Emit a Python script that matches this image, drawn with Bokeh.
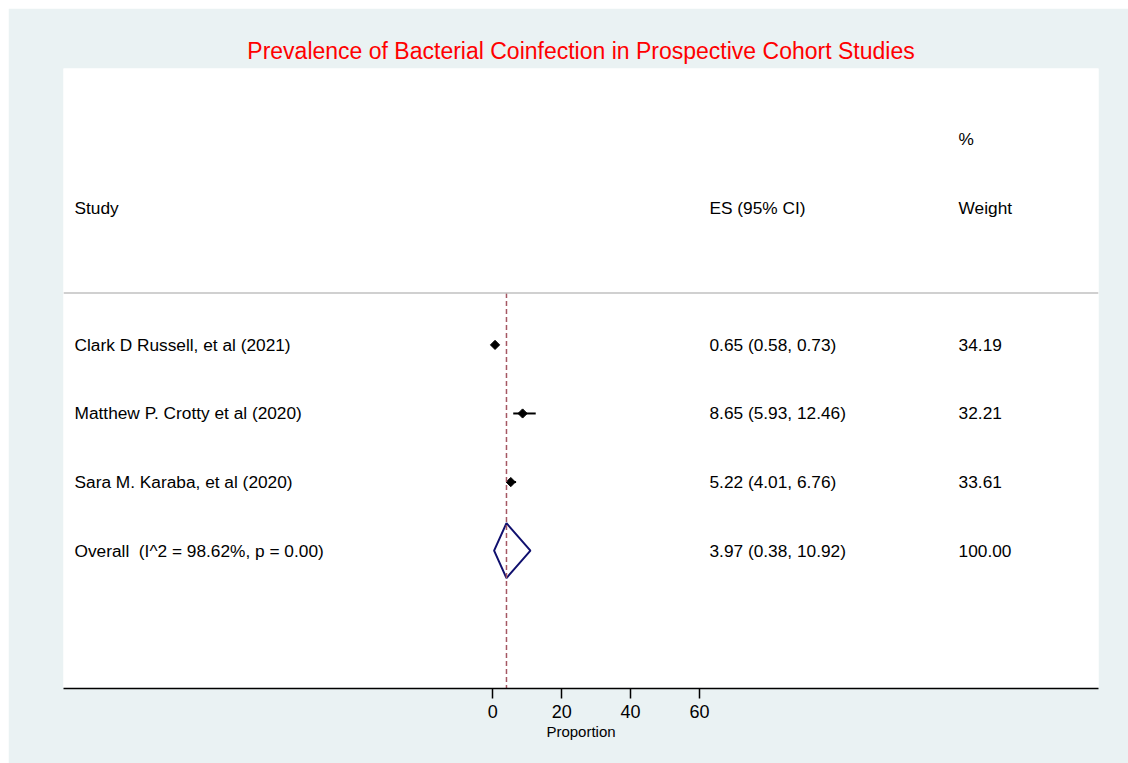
import math
from bokeh.plotting import figure
from bokeh.models import Range1d, FixedTicker, Span
from bokeh.core.properties import value
from bokeh.embed import file_html
from bokeh.resources import INLINE

# ---- data ----
studies = ["Clark D Russell, et al (2021)",
           "Matthew P. Crotty et al (2020)",
           "Sara M. Karaba, et al (2020)"]
es = [0.65, 8.65, 5.22]
ci_lo = [0.58, 5.93, 4.01]
ci_hi = [0.73, 12.46, 6.76]
weights = [34.19, 32.21, 33.61]
overall_es = 3.97
overall_lo = 0.38
overall_hi = 10.92
overall_weight = 100.00
i2 = 98.62
p_het = 0.00
x_ticks = [0, 20, 40, 60]

# ---- layout constants ----
FONT = value("Liberation Sans")
rows = [1, 2, 3]
overall_row = 4
x_lab, x_es, x_w = -121.4, 62.9, 135.2

p = figure(width=1120, height=755, output_backend="svg", toolbar_location=None,
           x_range=Range1d(-124.6, 175.8), y_range=Range1d(6.01, -3.03),
           y_axis_location=None, min_border_left=55, min_border_right=30,
           min_border_top=60, min_border_bottom=75)
p.margin = (8, 0, 0, 8)
p.border_fill_color = "#EAF2F3"
p.background_fill_color = "white"
p.outline_line_color = None
p.grid.visible = False

p.title.text = "Prevalence of Bacterial Coinfection in Prospective Cohort Studies"
p.title.align = "center"
p.title.text_color = "red"
p.title.text_font = "Liberation Sans"
p.title.text_font_size = "23px"
p.title.text_font_style = "normal"

ax = p.xaxis[0]
ax.ticker = FixedTicker(ticks=x_ticks)
ax.minor_tick_line_color = None
ax.major_tick_out = 10
ax.major_tick_in = 0
ax.axis_line_width = 1.5
ax.major_tick_line_width = 1.5
ax.axis_line_color = "black"
ax.major_label_text_font = "Liberation Sans"
ax.major_label_text_font_size = "18px"
ax.major_label_text_color = "black"
ax.major_label_standoff = 6
ax.axis_label = "Proportion"
ax.axis_label_text_font = "Liberation Sans"
ax.axis_label_text_font_size = "15px"
ax.axis_label_text_font_style = "normal"
ax.axis_label_text_color = "black"
ax.axis_label_standoff = 2

# separator line
p.add_layout(Span(location=0.245, dimension="width", line_color="#C0C0C0", line_width=1.5))

# headers
tk = dict(text_font=FONT, text_font_size="17.3px", text_baseline="middle",
          text_align="left", text_color="black")
p.text(x=[x_lab, x_es, x_w, x_w], y=[-1, -1, -1, -2],
       text=["Study", "ES (95% CI)", "Weight", "%"], **tk)

# study rows
p.text(x=[x_lab] * 3, y=rows, text=studies, **tk)
p.text(x=[x_es] * 3, y=rows,
       text=[f"{e:.2f} ({l:.2f}, {h:.2f})" for e, l, h in zip(es, ci_lo, ci_hi)], **tk)
p.text(x=[x_w] * 3, y=rows, text=[f"{w:.2f}" for w in weights], **tk)

# overall row
p.text(x=[x_lab], y=[overall_row],
       text=[f"Overall\u00a0\u00a0(I^2 = {i2:.2f}%, p = {p_het:.2f})"], **tk)
p.text(x=[x_es], y=[overall_row],
       text=[f"{overall_es:.2f} ({overall_lo:.2f}, {overall_hi:.2f})"], **tk)
p.text(x=[x_w], y=[overall_row], text=[f"{overall_weight:.2f}"], **tk)

# CIs and point estimates
p.segment(x0=ci_lo, x1=ci_hi, y0=rows, y1=rows, line_color="black", line_width=2)
p.scatter(x=es, y=rows, marker="square", angle=math.pi / 4, size=6.5,
          fill_color="black", line_color="black")

# overall diamond
h = 0.4
p.patch(x=[overall_lo, overall_es, overall_hi, overall_es, overall_lo],
        y=[overall_row, overall_row - h, overall_row, overall_row + h, overall_row],
        fill_color=None, line_color="#10106E", line_width=2)

# overall dashed line
p.segment(x0=[overall_es], x1=[overall_es], y0=[0.245], y1=[6.01],
          line_color="#A55763", line_width=1.5, line_dash="5 3")

open("out.html", "w").write(file_html(p, INLINE))
